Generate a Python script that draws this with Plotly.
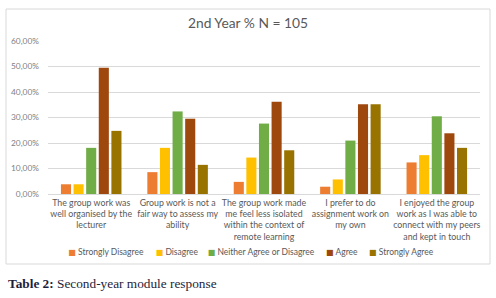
import plotly.graph_objects as go

categories = [
    "The group work was<br>well organised by the<br>lecturer",
    "Group work is not a<br>fair way to assess my<br>ability",
    "The group work made<br>me feel less isolated<br>within the context of<br>remote learning",
    "I prefer to do<br>assignment work on<br>my own",
    "I enjoyed the group<br>work as I was able to<br>connect with my peers<br>and kept in touch",
]
series_names = ["Strongly Disagree", "Disagree", "Neither Agree or Disagree", "Agree", "Strongly Agree"]
strongly_disagree = [3.81, 8.57, 4.76, 2.86, 12.38]
disagree = [3.81, 18.10, 14.29, 5.71, 15.24]
neither = [18.10, 32.38, 27.62, 20.95, 30.48]
agree = [49.52, 29.52, 36.19, 35.24, 23.81]
strongly_agree = [24.76, 11.43, 17.14, 35.24, 18.10]
colors = ["#ED7D31", "#FFC000", "#70AD47", "#9E480E", "#997300"]
y_tick_vals = [0, 10, 20, 30, 40, 50, 60]
y_tick_text = ["0,00%", "10,00%", "20,00%", "30,00%", "40,00%", "50,00%", "60,00%"]

font_family = "Lato, 'Open Sans', sans-serif"
L, T = 48, 41
W, H = 496, 298
pw, ph = 432, 153
legend_marker_x = [68.3, 155.7, 207.7, 326, 369]
legend_y_px = 251.5

fig = go.Figure()
all_vals = [strongly_disagree, disagree, neither, agree, strongly_agree]
for i, (name, vals, col) in enumerate(zip(series_names, all_vals, colors)):
    lg = "legend" if i == 0 else f"legend{i + 1}"
    fig.add_trace(go.Bar(x=list(range(len(categories))), y=vals, name=name,
                         marker=dict(color=col, line=dict(width=0)), showlegend=False))
    label = (f"<span style='font-family:DejaVu Sans;font-size:8px;color:{col}'>■</span> {name}")
    fig.add_trace(go.Scatter(x=[None], y=[None], mode="markers", name=label, legend=lg,
                             marker=dict(symbol="square", size=1, color="rgba(0,0,0,0)",
                                         line=dict(width=0, color="rgba(0,0,0,0)")),
                             showlegend=True, hoverinfo="skip"))

legends = {}
for i, mx in enumerate(legend_marker_x):
    key = "legend" if i == 0 else f"legend{i + 1}"
    legends[key] = dict(orientation="h", x=(mx - 40 - L) / pw, xanchor="left",
                        y=(T + ph - legend_y_px) / ph, yanchor="middle",
                        font=dict(size=8.5, color="#595959", family=font_family),
                        itemwidth=30, bgcolor="rgba(0,0,0,0)", borderwidth=0)

fig.update_layout(
    width=W, height=H,
    margin=dict(l=L, r=W - L - pw, t=T, b=H - T - ph, pad=0, autoexpand=False),
    paper_bgcolor="white", plot_bgcolor="white",
    barmode="group", bargap=0.27, bargroupgap=0.2,
    font=dict(family=font_family, color="#595959", size=8),
    title=dict(text="2nd Year % N = 105", x=0.5, xanchor="center", xref="container",
               y=1 - 23.3 / H, yanchor="middle",
               font=dict(size=13.8, color="#595959", family=font_family)),
    xaxis=dict(tickmode="array", tickvals=list(range(len(categories))), ticktext=categories,
               range=[-0.5, 4.5], showgrid=False, showline=True, linecolor="#D9D9D9",
               ticks="", tickfont=dict(size=8.8, color="#595959"), automargin=False),
    yaxis=dict(range=[0, 60], tickmode="array", tickvals=y_tick_vals, ticktext=y_tick_text,
               showgrid=True, gridcolor="#D9D9D9", gridwidth=1, zeroline=False, showline=False,
               ticks="", ticklabelstandoff=8, tickfont=dict(size=8.4, color="#7F7F7F"), automargin=False),
    showlegend=True,
    **legends,
)
fig.add_shape(type="rect", xref="paper", yref="paper",
              x0=(6 - L) / pw, x1=(490 - L) / pw, y0=(T + ph - 264) / ph, y1=(T + ph - 9) / ph,
              line=dict(color="#D9D9D9", width=1), fillcolor="rgba(0,0,0,0)", layer="below")
fig.add_annotation(xref="paper", yref="paper", x=(6 - L) / pw, y=(T + ph - 283) / ph,
                   xanchor="left", yanchor="middle", showarrow=False,
                   text="<b>Table 2:</b> Second-year module response",
                   font=dict(family="'Liberation Serif', 'DejaVu Serif', serif", size=13.3, color="#1E1E3C"))
fig.write_html("out.html", config={"displayModeBar": False},
               post_script="document.body.style.margin='0';")
